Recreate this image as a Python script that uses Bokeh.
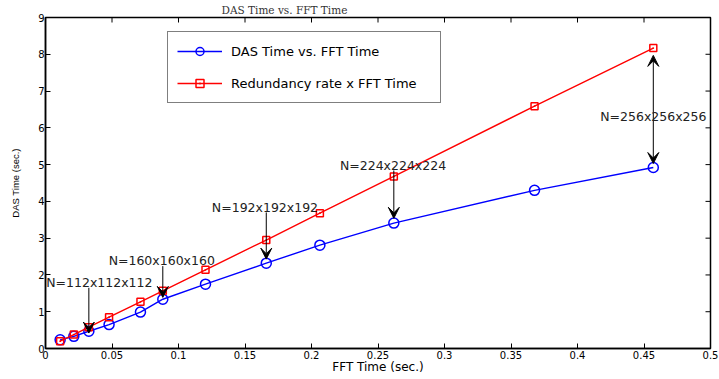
import math
from bokeh.plotting import figure
from bokeh.models import (Range1d, FixedTicker, Legend, LegendItem, Label,
                          Arrow, VeeHead, ColumnDataSource)
from bokeh.embed import file_html
from bokeh.resources import INLINE

# ---- data ----
fft_time = [0.011, 0.0213, 0.0326, 0.0478, 0.0714, 0.0882, 0.1203, 0.166, 0.2063, 0.2619, 0.3677, 0.457]
das_time = [0.235, 0.33, 0.47, 0.65, 0.99, 1.34, 1.75, 2.32, 2.81, 3.41, 4.30, 4.92]
redundancy_time = [0.20, 0.38, 0.58, 0.85, 1.27, 1.57, 2.14, 2.95, 3.68, 4.68, 6.59, 8.17]

x_ticks = [0, 0.05, 0.1, 0.15, 0.2, 0.25, 0.3, 0.35, 0.4, 0.45, 0.5]
x_tick_labels = ["0", "0.05", "0.1", "0.15", "0.2", "0.25", "0.3", "0.35", "0.4", "0.45", "0.5"]
y_ticks = [0, 1, 2, 3, 4, 5, 6, 7, 8, 9]

ann_text = ["N=112x112x112", "N=160x160x160", "N=192x192x192", "N=224x224x224", "N=256x256x256"]
ann_text_x = [0.0405, 0.0874, 0.165, 0.2613, 0.457]
ann_text_y = [1.79, 2.40, 3.84, 4.97, 6.32]
ann_arrow_x = [0.0326, 0.0882, 0.166, 0.2619]
ann_arrow_y0 = [1.65, 2.24, 3.70, 4.84]
ann_arrow_y1 = [0.42, 1.39, 2.43, 3.54]
dbl_arrow_x = [0.457]
dbl_arrow_y0 = [7.97]
dbl_arrow_y1 = [5.03]

FONT = "DejaVu Sans"
X0, X1 = x_ticks[0], x_ticks[-1]
Y0, Y1 = y_ticks[0], y_ticks[-1]

p = figure(width=719, height=379, output_backend="svg", toolbar_location=None,
           x_range=Range1d(X0, X1), y_range=Range1d(Y0, Y1),
           min_border_left=45, min_border_right=9, min_border_top=15, min_border_bottom=31,
           title="DAS Time vs. FFT Time")
p.xgrid.visible = False
p.ygrid.visible = False
p.outline_line_color = "black"
p.outline_line_width = 1.5
p.background_fill_color = "white"
p.border_fill_color = "white"

p.title.text_font = "DejaVu Serif"
p.title.text_font_size = "10.5px"
p.title.text_font_style = "normal"
p.title.text_color = "#333333"
p.title.align = "left"
p.title.offset = 176
p.title.standoff = 3


def style_axis(ax):
    ax.axis_line_color = "black"
    ax.axis_line_width = 1.5
    ax.major_tick_in = 5
    ax.major_tick_out = 0
    ax.minor_tick_in = 0
    ax.minor_tick_out = 0
    ax.major_tick_line_color = "black"
    ax.major_tick_line_width = 1
    ax.major_label_text_font = FONT
    ax.major_label_text_color = "black"
    ax.major_label_text_font_size = "10px"
    ax.major_label_standoff = 2
    ax.axis_label_text_font = FONT
    ax.axis_label_text_font_style = "normal"
    ax.axis_label_text_color = "black"


xa = p.xaxis[0]
xa.ticker = FixedTicker(ticks=x_ticks, minor_ticks=[])
xa.major_label_overrides = dict(zip(x_ticks, x_tick_labels))
style_axis(xa)
xa.axis_label = "FFT Time (sec.)"
xa.axis_label_text_font_size = "12px"
xa.axis_label_standoff = -2

ya = p.yaxis[0]
ya.ticker = FixedTicker(ticks=y_ticks, minor_ticks=[])
style_axis(ya)
ya.major_label_standoff = 1
ya.axis_label = "DAS Time (sec.)"
ya.axis_label_text_font = "Liberation Sans"
ya.axis_label_text_font_size = "9.5px"
ya.axis_label_standoff = 14

# inward ticks on the top and right sides of the box (clipped to the frame)
p.scatter(x=x_ticks, y=[Y1] * len(x_ticks), marker="dash", size=10, angle=math.pi / 2,
          line_color="black", line_width=1)
p.scatter(x=[X1] * len(y_ticks), y=y_ticks, marker="dash", size=10,
          line_color="black", line_width=1)

# ---- series ----
src = ColumnDataSource(dict(x=fft_time, das=das_time, red=redundancy_time))
bl = p.line("x", "das", source=src, line_color="#0000ff", line_width=1.4)
bm = p.scatter("x", "das", source=src, marker="circle", size=10, line_color="#0000ff",
               fill_color=None, line_width=1.5)
rl = p.line("x", "red", source=src, line_color="#ff0000", line_width=1.4)
rm = p.scatter("x", "red", source=src, marker="square_dot", size=7, line_color="#ff0000",
               fill_color=None, line_width=1.5)

# ---- annotations ----
arr_src = ColumnDataSource(dict(x=ann_arrow_x, y0=ann_arrow_y0, y1=ann_arrow_y1))
p.add_layout(Arrow(source=arr_src, x_start="x", y_start="y0", x_end="x", y_end="y1",
                   line_color="black", line_width=1,
                   end=VeeHead(size=11, fill_color="black", line_color="black")))
dbl_src = ColumnDataSource(dict(x=dbl_arrow_x, y0=dbl_arrow_y0, y1=dbl_arrow_y1))
p.add_layout(Arrow(source=dbl_src, x_start="x", y_start="y0", x_end="x", y_end="y1",
                   line_color="black", line_width=1,
                   start=VeeHead(size=11, fill_color="black", line_color="black"),
                   end=VeeHead(size=11, fill_color="black", line_color="black")))

for tx, ty, tt in zip(ann_text_x, ann_text_y, ann_text):
    p.add_layout(Label(x=tx, y=ty, text=tt, text_font=FONT, text_font_size="12.5px",
                       text_color="#222222", text_align="center", text_baseline="middle"))

# ---- legend ----
legend = Legend(items=[LegendItem(label="DAS Time vs. FFT Time", renderers=[bl, bm]),
                       LegendItem(label="Redundancy rate x FFT Time", renderers=[rl, rm])],
                location=(122, 245), orientation="vertical",
                border_line_color="black", border_line_width=1, background_fill_alpha=1,
                padding=9, spacing=12, label_height=20, glyph_height=20, glyph_width=45,
                label_standoff=9, label_width=200, margin=0,
                label_text_font=FONT, label_text_font_size="13px", label_text_color="black")
p.add_layout(legend, "center")

open("out.html", "w").write(file_html(p, INLINE))
